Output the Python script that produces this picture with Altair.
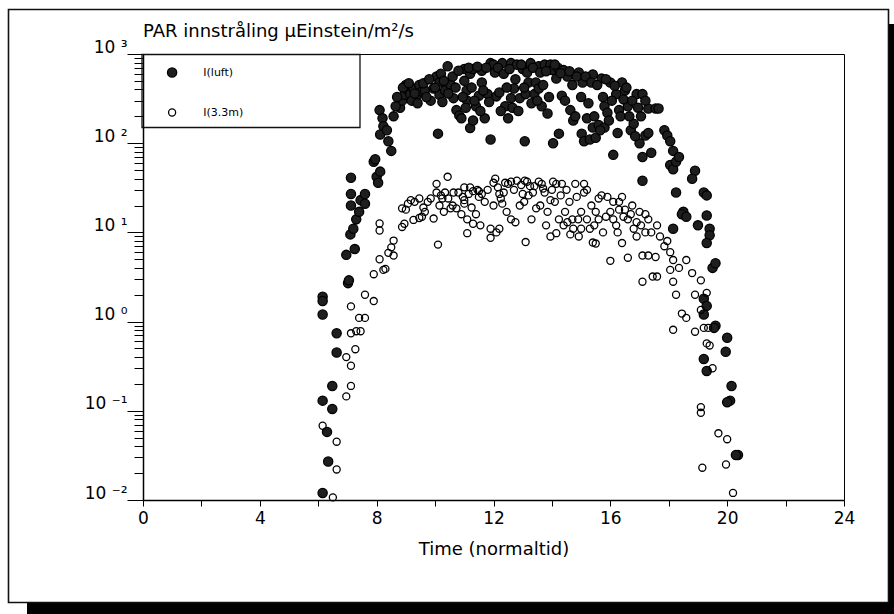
import altair as alt
import pandas as pd

# ---------------- data ----------------
luft_t = [6.15, 6.15, 6.15, 6.15, 6.15, 6.3, 6.34, 6.48, 6.48, 6.63, 6.63, 6.96, 7.02, 7.05, 7.1,
          7.12, 7.12, 7.12, 7.2, 7.25, 7.3, 7.4, 7.45, 7.6, 7.6, 7.9, 7.95, 8.0, 8.05, 8.12,
          8.1, 8.2, 8.23, 8.12, 8.35, 8.4, 8.5, 8.58, 8.8, 8.87, 8.95, 9.0, 9.05, 9.15, 9.26,
          9.36, 9.46, 9.55, 9.65, 9.85, 9.95, 10.05, 10.15, 10.15, 10.1, 10.25, 10.34, 10.43, 10.53, 10.63,
          10.73, 10.83, 10.9, 11.0, 11.0, 11.08, 11.1, 11.2, 11.2, 11.3, 11.3, 11.4, 11.5, 11.6, 11.6,
          11.7, 11.8, 11.9, 11.9, 12.0, 12.05, 12.1, 12.2, 12.3, 12.4, 12.5, 12.6, 12.6, 12.7, 12.8,
          12.9, 13.0, 13.07, 13.1, 13.2, 13.27, 13.4, 13.45, 13.55, 13.55, 13.65, 13.75, 13.85, 13.95, 14.0,
          14.04, 14.15, 14.2, 14.24, 14.34, 14.4, 14.53, 14.63, 14.73, 14.8, 14.92, 15.02, 15.05, 15.1, 15.2,
          15.3, 15.4, 15.4, 15.5, 15.6, 15.7, 15.8, 15.8, 15.9, 16.0, 16.1, 16.2, 16.3, 16.4, 16.5,
          16.6, 16.7, 16.8, 16.9, 17.0, 17.1, 17.1, 17.2, 17.1, 17.3, 17.3, 17.4, 17.55, 17.65, 17.85,
          17.95, 18.05, 18.15, 18.05, 18.15, 18.25, 18.35, 18.25, 18.5, 18.45, 18.15, 18.6, 18.9, 18.8, 19.2,
          19.3, 19.0, 19.3, 19.4, 19.4, 19.3, 19.5, 19.6, 19.2, 19.3, 19.2, 19.6, 19.55, 20.0, 19.95,
          19.2, 19.3, 20.15, 20.1, 20.0, 20.37, 20.3,
          8.65, 8.7, 8.9, 9.1, 9.2, 9.3, 9.4, 9.6, 9.7, 9.8, 10.0, 10.2, 10.3, 10.45, 10.6,
          10.7, 10.8, 10.95, 11.05, 11.15, 11.25, 11.35, 11.45, 11.55, 11.65, 11.75, 11.85, 12.15, 12.25, 12.35,
          12.45, 12.55, 12.65, 12.75, 12.85, 12.95, 13.05, 13.15, 13.3, 13.35, 13.5, 13.6, 13.7, 13.8, 13.9,
          14.1, 14.3, 14.45, 14.6, 14.7, 14.85, 15.0, 15.15, 15.25, 15.35, 15.45, 15.55, 15.65, 15.75, 15.85,
          15.95, 16.05, 16.15, 16.25, 16.35, 16.45, 16.55, 16.65, 16.75, 16.85, 16.95, 17.05, 17.2]
luft_v = [1.9, 1.7, 1.2, 0.13, 0.012, 0.058, 0.027, 0.19, 0.105, 0.74, 0.45, 5.6, 2.7, 2.9, 9.5,
          41, 27, 20, 11, 6.5, 14, 17, 23, 27, 21, 62, 66, 42, 36, 48,
          235, 190, 155, 125, 140, 105, 82, 200, 250, 300, 350, 450, 400, 355, 410,
          335, 450, 380, 390, 300, 410, 560, 480, 350, 128, 290, 390, 730, 455, 320,
          235, 205, 190, 680, 500, 390, 300, 600, 148, 680, 180, 260, 340, 650, 480,
          190, 355, 790, 110, 760, 620, 335, 370, 790, 260, 190, 790, 320, 410, 760,
          320, 680, 105, 355, 480, 790, 355, 480, 730, 410, 260, 760, 215, 760, 660,
          100, 530, 700, 128, 340, 660, 560, 235, 180, 200, 620, 128, 480, 105, 190,
          110, 590, 150, 115, 160, 530, 260, 150, 220, 480, 74, 355, 235, 480, 390,
          260, 140, 165, 355, 100, 355, 70, 122, 38, 245, 130, 78, 245, 245, 140,
          122, 105, 82, 57, 51, 62, 70, 28, 17, 16, 11, 15, 49, 40, 28,
          26, 12, 15.5, 11, 9.3, 7.6, 4.0, 4.5, 1.8, 1.5, 1.2, 0.9, 0.85, 0.66, 0.46,
          0.38, 0.28, 0.19, 0.13, 0.125, 0.032, 0.032,
          260, 330, 420, 470, 300, 360, 280, 470, 330, 520, 420, 600, 500, 360, 560,
          420, 650, 330, 250, 700, 420, 300, 720, 230, 390, 700, 290, 700, 230, 600,
          420, 680, 250, 520, 230, 760, 420, 620, 280, 700, 300, 620, 450, 640, 330,
          760, 610, 300, 640, 450, 560, 330, 560, 280, 480, 200, 450, 140, 330, 520,
          180, 300, 440, 130, 200, 310, 420, 200, 300, 120, 250, 200, 300]

m33_t = [6.15, 6.63, 6.63, 6.5, 6.96, 7.12, 6.96, 7.12, 7.27, 7.3, 7.45, 7.4, 7.6, 7.12, 7.12,
         7.6, 7.9, 7.9, 8.1, 8.23, 8.3, 8.4, 8.5, 8.58, 8.58, 8.1, 8.1, 8.87, 8.95, 8.87,
         9.07, 9.17, 9.26, 9.46, 9.46, 9.55, 9.65, 9.85, 9.95, 10.05, 10.05, 10.1, 10.15, 10.25, 10.34,
         10.43, 10.53, 10.63, 10.73, 10.9, 11.0, 11.0, 11.0, 11.1, 11.1, 11.2, 11.3, 11.3, 11.4, 11.5,
         11.5, 11.6, 11.9, 11.9, 12.0, 12.06, 12.1, 12.2, 12.2, 12.25, 12.3, 12.4, 12.5, 12.6, 12.6,
         12.8, 12.9, 13.0, 13.07, 13.1, 13.15, 13.25, 13.35, 13.46, 13.55, 13.65, 13.75, 13.85, 13.95, 13.95,
         14.04, 14.15, 14.15, 14.24, 14.34, 14.45, 14.53, 14.63, 14.73, 14.8, 14.9, 14.92, 15.0, 15.1, 15.1,
         15.2, 15.3, 15.4, 15.5, 15.5, 15.6, 15.7, 15.9, 16.0, 16.0, 16.1, 16.2, 16.3, 16.3, 16.4,
         16.4, 16.5, 16.6, 16.7, 16.8, 16.9, 17.0, 17.1, 17.1, 17.2, 17.2, 17.3, 17.45, 17.55, 17.6,
         17.6, 17.95, 18.05, 18.05, 18.15, 18.15, 18.25, 18.35, 18.45, 18.6, 18.6, 18.8, 18.15, 18.9, 19.1,
         19.1, 19.3, 18.9, 19.2, 19.35, 19.3, 19.4, 19.5, 19.1, 19.1, 19.7, 20.0, 19.96, 19.15, 20.2,
         9.0, 9.3, 9.6, 9.75, 10.2, 10.3, 10.45, 10.6, 10.8, 10.95, 11.15, 11.25, 11.45, 11.55, 11.7,
         11.8, 12.0, 12.15, 12.35, 12.45, 12.7, 12.75, 12.95, 13.05, 13.2, 13.3, 13.4, 13.6, 13.7, 13.8,
         14.0, 14.1, 14.3, 14.4, 14.5, 14.6, 14.7, 14.85, 15.0, 15.2, 15.35, 15.45, 15.6, 15.75, 15.85,
         16.1, 16.25, 16.45, 16.6, 16.75, 16.9, 17.05, 17.3, 17.4, 17.7, 17.85]
m33_v = [0.068, 0.045, 0.022, 0.0107, 0.145, 0.19, 0.4, 0.32, 0.49, 0.78, 0.78, 1.1, 1.1, 1.48, 0.74,
         2.0, 1.7, 3.4, 5.0, 3.8, 3.9, 5.9, 6.8, 8.1, 5.5, 12.6, 10.5, 11.5, 12.5, 18.6,
         21, 23, 13.8, 14.5, 24, 15, 17, 24, 14.3, 35, 28, 7.3, 20, 24, 28,
         42, 18.6, 28, 18.6, 16, 32, 23, 21, 9.8, 14, 32, 29, 12.5, 16, 29,
         25, 27, 8.7, 11, 36, 40, 10, 11, 27, 24, 21, 36, 35, 14, 37,
         38, 20, 27, 38, 7.8, 37, 33, 28, 18.6, 37, 35, 28, 17, 23, 9,
         37, 35, 9.8, 14, 35, 17, 13, 9.5, 11, 35, 14, 9, 11, 35, 28,
         14, 11, 7.7, 7.5, 17, 14, 26, 25, 17, 4.8, 14, 12, 18, 22, 25,
         7.6, 18, 5.2, 16, 11, 13, 17, 5.5, 2.8, 10, 16, 5.5, 3.2, 5.3, 12,
         3.2, 8, 6, 3.8, 4.9, 2.8, 2.0, 4.0, 1.23, 1.1, 4.9, 3.5, 0.81, 2.0, 2.9,
         1.35, 2.1, 0.77, 0.85, 0.85, 0.57, 0.54, 0.3, 0.11, 0.095, 0.056, 0.048, 0.025, 0.023, 0.012,
         18, 22, 19, 22, 26, 17, 24, 20, 28, 25, 27, 19, 30, 12, 22,
         30, 20, 32, 28, 17, 30, 13, 34, 22, 26, 14, 33, 20, 31, 12,
         30, 22, 26, 12, 30, 22, 14, 25, 17, 30, 20, 12, 24, 10, 15,
         22, 10, 15, 14, 20, 9, 12, 14, 10, 9, 7]

series_names = ["I(luft)", "I(3.3m)"]
x_tick_values = [0, 2, 4, 6, 8, 10, 12, 14, 16, 18, 20, 22, 24]
y_decades = [0.01, 0.1, 1, 10, 100, 1000]
y_decade_labels = ["10 \u207b\u00b2", "10 \u207b\u00b9", "10 \u2070", "10 \u00b9", "10 \u00b2", "10 \u00b3"]
y_minor_mult = [2, 3, 4, 5, 6, 7, 8, 9]
title_text = "PAR innstr\u00e5ling \u00b5Einstein/m\u00b2/s"
x_title = "Time (normaltid)"

# ---------------- build table ----------------
df = pd.concat([
    pd.DataFrame({"t": luft_t, "v": luft_v, "series": series_names[0]}),
    pd.DataFrame({"t": m33_t, "v": m33_v, "series": series_names[1]}),
], ignore_index=True)

y_minor = [m * d for d in y_decades[:-1] for m in y_minor_mult]

label_expr = "''"
for val, lab in zip(y_decades, y_decade_labels):
    label_expr = f"datum.value == {val} ? '{lab}' : ({label_expr})"

FONT = "DejaVu Sans"
W, H = 701, 446
PAD = {"left": 143, "top": 54, "right": 894 - 143 - W, "bottom": 614 - 54 - H}

xscale = alt.Scale(domain=[0, 24], nice=False, zero=False)
yscale = alt.Scale(type="log", domain=[0.01, 1000], nice=False)

one = pd.DataFrame({"k": [0]})

# page frame, drop shadow and legend box (decoration)
shadow_r = alt.Chart(one).mark_rect(color="black").encode(
    x=alt.value(746), x2=alt.value(760), y=alt.value(-30), y2=alt.value(570))
shadow_b = alt.Chart(one).mark_rect(color="black").encode(
    x=alt.value(-116), x2=alt.value(760), y=alt.value(549), y2=alt.value(570))
frame = alt.Chart(one).mark_rect(fillOpacity=0, stroke="#111", strokeWidth=1.6).encode(
    x=alt.value(-134.5), x2=alt.value(745.5), y=alt.value(-44.5), y2=alt.value(548.5))
legend_box = alt.Chart(one).mark_rect(fillOpacity=0, stroke="#111", strokeWidth=1.3).encode(
    x=alt.value(-1), x2=alt.value(217), y=alt.value(0.5), y2=alt.value(73.5))

legend = alt.Legend(title=None, orient="none", legendX=-1, legendY=1, direction="vertical",
                    padding=12, rowPadding=26,
                    symbolOffset=12.6, labelOffset=25.7, symbolType="circle",
                    symbolStrokeColor="black", symbolStrokeWidth=1.3,
                    labelFont=FONT, labelFontSize=11, labelColor="black")

points = alt.Chart(df).mark_point(filled=True, strokeWidth=1.3, opacity=1, shape="circle").encode(
    x=alt.X("t:Q", scale=xscale,
            axis=alt.Axis(values=x_tick_values, labelExpr="datum.value % 4 == 0 ? datum.label : ''",
                          tickSize=6, tickColor="black", domainColor="black", domainWidth=1.5,
                          labelFont=FONT, labelFontSize=17, labelColor="black", labelPadding=4,
                          labelFlush=False, labelOverlap=False, grid=False,
                          title=x_title, titleFont=FONT, titleFontSize=18, titleFontWeight="normal",
                          titleColor="black", titlePadding=14)),
    y=alt.Y("v:Q", scale=yscale,
            axis=alt.Axis(orient="left", values=y_decades, labelExpr=label_expr, tickSize=16,
                          tickColor="black", domainColor="black", domainWidth=1.5,
                          labelFont=FONT, labelFontSize=17, labelColor="black", labelPadding=0,
                          labelBaseline="alphabetic", labelOffset=-2, labelOverlap=False,
                          labelFlush=False, grid=False, title=None)),
    fill=alt.Fill("series:N", scale=alt.Scale(domain=series_names, range=["#1e1e1e", "transparent"]),
                  legend=legend),
    stroke=alt.Stroke("series:N", scale=alt.Scale(domain=series_names, range=["black", "black"]),
                      legend=legend),
    size=alt.Size("series:N", scale=alt.Scale(domain=series_names, range=[85, 50]), legend=legend),
)

minor = alt.Chart(df).mark_point(opacity=0, size=1).encode(
    y=alt.Y("v:Q", scale=yscale,
            axis=alt.Axis(orient="left", values=y_minor, tickSize=9, tickColor="black",
                          labels=False, domain=False, grid=False, title=None)),
)

chart = alt.layer(shadow_r, shadow_b, frame, legend_box, minor, points).resolve_axis(y="independent").properties(
    width=W, height=H,
    title=alt.Title(title_text, anchor="start", frame="group", font=FONT, fontSize=18,
                    fontWeight="normal", color="black", offset=2, dy=34),
    autosize=alt.AutoSizeParams(type="none"),
    padding=PAD,
    background="white",
).configure_view(stroke="black", strokeWidth=1, fill="white")

chart.save("out.html", embed_options={"renderer": "svg", "actions": False})
